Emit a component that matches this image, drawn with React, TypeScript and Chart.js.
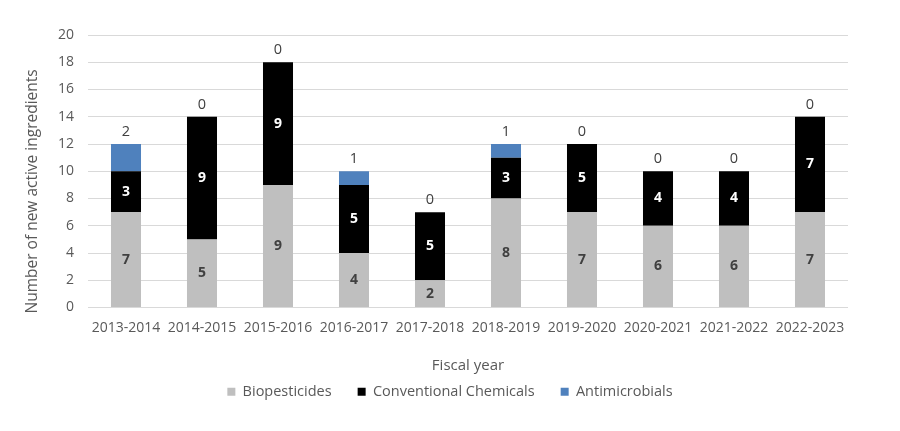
import React, { useEffect, useRef } from "react";
import { Chart, registerables } from "chart.js";

Chart.register(...registerables);

const categories = [
  "2013-2014", "2014-2015", "2015-2016", "2016-2017", "2017-2018",
  "2018-2019", "2019-2020", "2020-2021", "2021-2022", "2022-2023",
];
const biopesticides = [7, 5, 9, 4, 2, 8, 7, 6, 6, 7];
const conventional = [3, 9, 9, 5, 5, 3, 5, 4, 4, 7];
const antimicrobials = [2, 0, 0, 1, 0, 1, 0, 0, 0, 0];
const yTicks = [0, 2, 4, 6, 8, 10, 12, 14, 16, 18, 20];

const FONT = "'Open Sans', 'Noto Sans', sans-serif";
const TEXT = "#595959";

const labelPlugin = {
  id: "segmentLabels",
  afterDatasetsDraw(chart: any) {
    const ctx = chart.ctx;
    ctx.save();
    ctx.textAlign = "center";
    ctx.textBaseline = "middle";
    chart.data.datasets.forEach((ds: any, di: number) => {
      const meta = chart.getDatasetMeta(di);
      meta.data.forEach((el: any, i: number) => {
        const v = ds.data[i];
        if (di < 2) {
          if (!v) return;
          ctx.font = `bold 14px ${FONT}`;
          ctx.fillStyle = di === 0 ? "#404040" : "#ffffff";
          ctx.fillText(String(v), el.x, (el.y + el.base) / 2);
        } else {
          ctx.font = `14.5px ${FONT}`;
          ctx.fillStyle = "#404040";
          ctx.fillText(String(v), el.x, Math.min(el.y, el.base) - 12);
        }
      });
    });
    ctx.restore();
  },
};

export default function App() {
  const ref = useRef<HTMLCanvasElement | null>(null);
  useEffect(() => {
    if (!ref.current) return;
    const chart = new Chart(ref.current, {
      type: "bar",
      data: {
        labels: categories,
        datasets: [
          { label: "Biopesticides", data: biopesticides, backgroundColor: "#bfbfbf" },
          { label: "Conventional Chemicals", data: conventional, backgroundColor: "#000000" },
          { label: "Antimicrobials", data: antimicrobials, backgroundColor: "#4f81bd" },
        ],
      },
      options: {
        animation: false,
        responsive: true,
        maintainAspectRatio: false,
        layout: { padding: { top: 35, left: 0, right: 0, bottom: 22 } },
        datasets: { bar: { barPercentage: 0.395, categoryPercentage: 1 } },
        plugins: {
          tooltip: { enabled: false },
          legend: {
            position: "bottom",
            labels: {
              boxWidth: 8,
              boxHeight: 8,
              padding: 26,
              color: TEXT,
              font: { family: FONT, size: 14.5 },
            },
          },
        },
        scales: {
          x: {
            stacked: true,
            grid: { display: false, drawTicks: false },
            border: { display: false },
            ticks: { color: TEXT, font: { family: FONT, size: 14 }, padding: 12, maxRotation: 0, autoSkip: false },
            title: {
              display: true,
              text: "Fiscal year",
              color: TEXT,
              font: { family: FONT, size: 15 },
              padding: { top: 0, bottom: -16.5 },
            },
            afterFit: (s: any) => { s.height = 51; },
          },
          y: {
            stacked: true,
            min: 0,
            max: 20,
            afterBuildTicks: (s: any) => { s.ticks = yTicks.map((v) => ({ value: v })); },
            grid: { color: "#d9d9d9", drawTicks: false, lineWidth: 1 },
            border: { display: false },
            ticks: { color: TEXT, font: { family: FONT, size: 14 }, padding: 14 },
            title: {
              display: true,
              text: "Number of new active ingredients          ",
              color: TEXT,
              font: { family: FONT, size: 15.5 },
              padding: { top: 23.7, bottom: 0 },
            },
            afterFit: (s: any) => { s.width = 88; },
          },
          y2: {
            position: "right",
            display: true,
            min: 0,
            max: 20,
            grid: { display: false, drawTicks: false },
            border: { display: false },
            ticks: { display: false },
            afterFit: (s: any) => { s.width = 52; },
          },
        },
      },
      plugins: [labelPlugin],
    });
    return () => chart.destroy();
  }, []);
  return (
    <div style={{ position: "absolute", left: 0, top: 0, width: 900, height: 431, background: "#fff" }}>
      <canvas ref={ref} />
    </div>
  );
}
